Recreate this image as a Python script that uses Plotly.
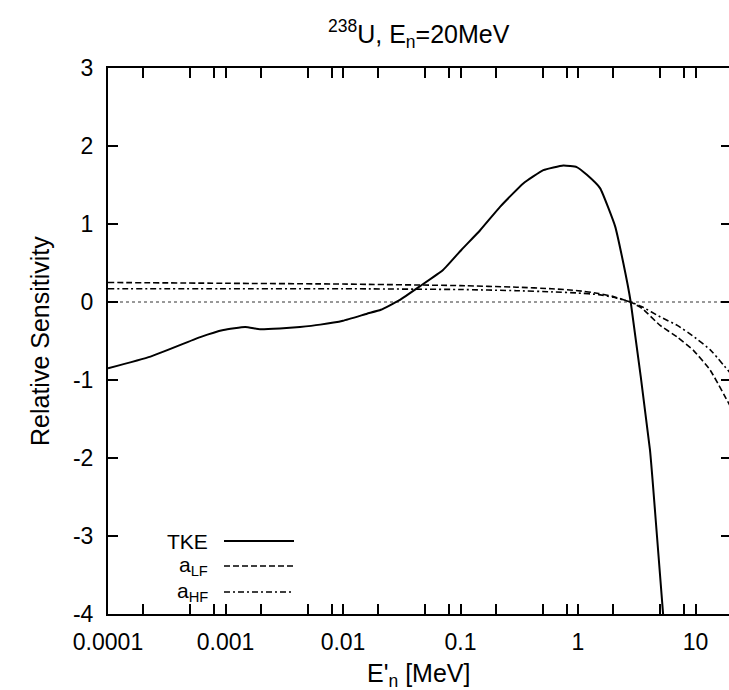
import plotly.graph_objects as go

# ---- data ----
tke_x = [1e-4, 2.3e-4, 6.1e-4, 9.6e-4, 1.47e-3, 1.97e-3, 2.9e-3, 4.3e-3, 6.4e-3, 0.010,
         0.016, 0.021, 0.030, 0.045, 0.071, 0.102, 0.147, 0.217, 0.342, 0.507,
         0.75, 0.975, 1.19, 1.54, 2.07, 2.43, 2.81, 4.1, 4.7, 5.3]
tke_y = [-0.85, -0.70, -0.45, -0.36, -0.32, -0.35, -0.34, -0.32, -0.29, -0.24,
         -0.15, -0.10, 0.02, 0.20, 0.41, 0.67, 0.92, 1.22, 1.52, 1.69,
         1.75, 1.73, 1.63, 1.46, 0.97, 0.50, 0.0, -1.90, -3.0, -4.0]

alf_x = [1e-4, 1e-3, 0.01, 0.1, 0.3, 0.6, 1.0, 1.5, 2.0, 2.8, 3.5, 5.0, 7.0, 9.6, 13.3, 20.0]
alf_y = [0.25, 0.24, 0.23, 0.21, 0.19, 0.17, 0.145, 0.11, 0.07, 0.0, -0.08, -0.30, -0.45, -0.62, -0.87, -1.35]

ahf_x = [1e-4, 1e-3, 0.01, 0.1, 0.3, 0.6, 1.0, 1.5, 2.0, 2.8, 3.5, 5.0, 7.0, 9.6, 13.3, 20.0]
ahf_y = [0.17, 0.17, 0.17, 0.16, 0.145, 0.13, 0.115, 0.095, 0.06, 0.0, -0.06, -0.19, -0.30, -0.44, -0.61, -0.92]

x_tickvals = [1e-4, 1e-3, 1e-2, 1e-1, 1, 10]
x_ticktext = ["0.0001", "0.001", "0.01", "0.1", "1", "10"]
x_minor = [m * 10.0 ** k for k in range(-4, 2) for m in (2, 5, 8)]
y_tickvals = [-4, -3, -2, -1, 0, 1, 2, 3]
y_ticktext = ["-4", "-3", "-2", "-1", "0", "1", "2", "3"]

legend_labels = ["TKE", "a<sub>LF</sub>", "a<sub>HF</sub>"]
dashes = ["solid", "6px,3px", "6px,3px,2px,3px"]

# ---- layout constants (pixels) ----
W, H = 729, 690
ML, MR, MT, MB = 108, 0, 68, 76
PW, PH = W - ML - MR, H - MT - MB
FONT = "Liberation Sans, Arial, Helvetica, sans-serif"
FS_TICK = 23
FS_TEXT = 25
FS_LEG = 21

fig = go.Figure()
series = [(tke_x, tke_y, 2.0), (alf_x, alf_y, 1.6), (ahf_x, ahf_y, 1.6)]
for (xs, ys, lw), name, d in zip(series, legend_labels, dashes):
    fig.add_trace(go.Scatter(x=xs, y=ys, mode="lines", name=name, showlegend=False,
                             line=dict(color="black", width=lw, dash=d, shape="spline",
                                       smoothing=0.4)))

# empty trace to carry the right-hand tick axis
fig.add_trace(go.Scatter(x=[], y=[], yaxis="y2", showlegend=False, hoverinfo="skip"))

# zero reference line
fig.add_shape(type="line", xref="paper", yref="y", x0=0, x1=1, y0=0, y1=0,
              line=dict(color="#333333", width=1, dash="dot"), layer="below")

# manual legend: text then sample line
leg_y_px = [541, 566, 592]
for lab, d, py, lw in zip(legend_labels, dashes, leg_y_px, [2.0, 1.6, 1.6]):
    yp = (MT + PH - py) / PH
    fig.add_annotation(xref="paper", yref="paper", x=(210 - ML) / PW, y=yp,
                       text=lab, showarrow=False, xanchor="right", yanchor="middle",
                       font=dict(family=FONT, size=FS_LEG, color="black"))
    fig.add_shape(type="line", xref="paper", yref="paper",
                  x0=(224 - ML) / PW, x1=(294 - ML) / PW, y0=yp, y1=yp,
                  line=dict(color="black", width=lw, dash=d))

# title and axis titles
fig.add_annotation(xref="paper", yref="paper", x=0.5, y=1, yshift=34,
                   text="<sup>238</sup>U, E<sub>n</sub>=20MeV", showarrow=False,
                   xanchor="center", yanchor="middle",
                   font=dict(family=FONT, size=FS_TEXT, color="black"))
fig.add_annotation(xref="paper", yref="paper", x=0.5, y=0, yshift=-61,
                   text="E'<sub>n</sub> [MeV]", showarrow=False,
                   xanchor="center", yanchor="middle",
                   font=dict(family=FONT, size=FS_TEXT, color="black"))
fig.add_annotation(xref="paper", yref="paper", x=0, xshift=-68, y=0.5,
                   text="Relative Sensitivity", showarrow=False, textangle=-90,
                   xanchor="center", yanchor="middle",
                   font=dict(family=FONT, size=FS_TEXT, color="black"))

fig.update_layout(
    width=W, height=H,
    margin=dict(l=ML, r=MR, t=MT, b=MB, pad=0),
    paper_bgcolor="white", plot_bgcolor="white",
    showlegend=False,
    font=dict(family=FONT, size=FS_TICK, color="black"),
    xaxis=dict(type="log", range=[-4, -4 + PW / 117.5],
               tickmode="array", tickvals=x_tickvals, ticktext=x_ticktext,
               ticks="inside", ticklen=10, tickwidth=1.5, tickcolor="black",
               minor=dict(tickmode="array", tickvals=x_minor, ticks="inside",
                          ticklen=5, tickwidth=1.5, tickcolor="black", showgrid=False),
               showline=True, linecolor="black", linewidth=2, mirror="allticks",
               showgrid=False, zeroline=False, ticklabelstandoff=6,
               tickfont=dict(family=FONT, size=FS_TICK, color="black")),
    yaxis=dict(range=[-4, 3], tickmode="array", tickvals=y_tickvals, ticktext=y_ticktext,
               ticks="inside", ticklen=10, tickwidth=1.5, tickcolor="black",
               showline=True, linecolor="black", linewidth=2, mirror=False,
               showgrid=False, zeroline=False, ticklabelstandoff=8,
               tickfont=dict(family=FONT, size=FS_TICK, color="black")),
    yaxis2=dict(range=[-4, 3], overlaying="y", side="right", tickmode="array",
                tickvals=y_tickvals, showticklabels=False, ticks="inside", ticklen=8,
                tickwidth=1.5, tickcolor="black", showline=False, showgrid=False,
                zeroline=False),
)

fig.write_html("out.html")
